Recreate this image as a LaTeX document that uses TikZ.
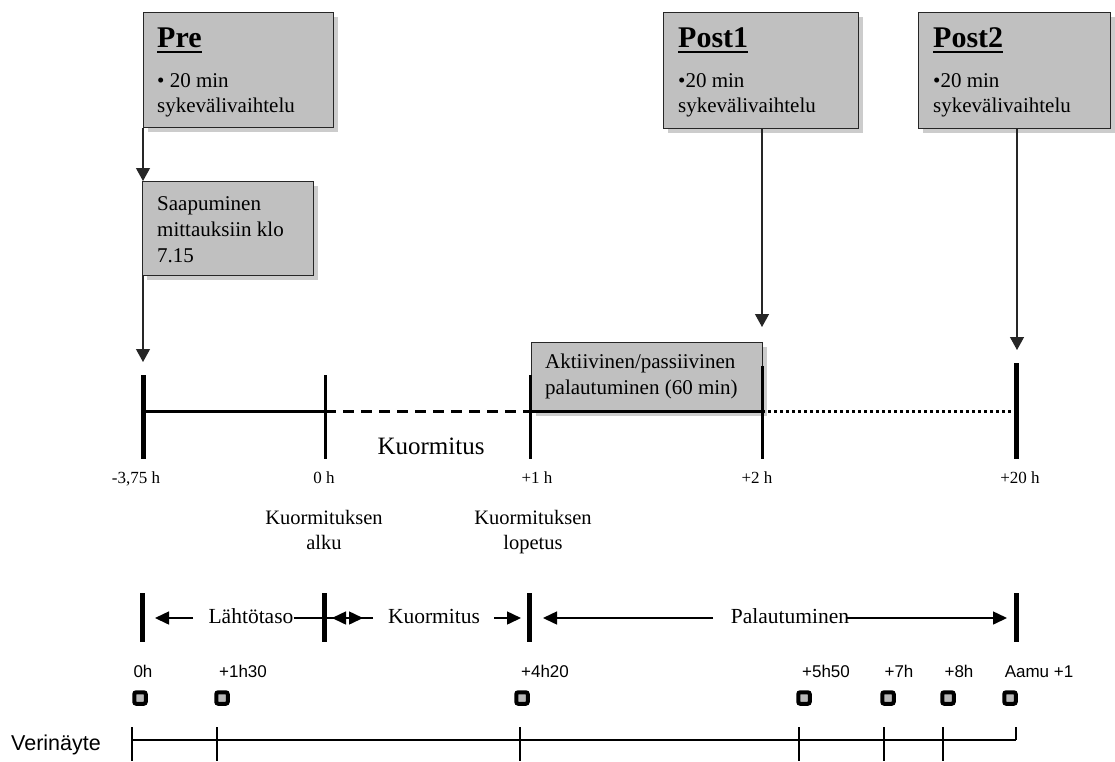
\documentclass[tikz,border=0pt]{standalone}
\usepackage{fontspec}
\setmainfont{Liberation Serif}
\newfontfamily\arialf{Liberation Sans}
\usetikzlibrary{arrows.meta,shadows}
\definecolor{boxgray}{HTML}{C0C0C0}
\begin{document}
\begin{tikzpicture}[x=1pt,y=-1pt,
  gbox/.style={draw=black!85,line width=1.3pt,fill=boxgray,inner sep=0pt,anchor=north west,
    drop shadow={shadow xshift=4pt,shadow yshift=-4pt,fill=black,opacity=0.2}},
  ttl/.style={anchor=base west,inner sep=0pt,font=\fontsize{30}{33}\selectfont\bfseries},
  btxt/.style={anchor=base west,inner sep=0pt,font=\fontsize{21}{24}\selectfont},
  ticklab/.style={anchor=base,inner sep=0pt,font=\fontsize{17}{20}\selectfont},
  mtxt/.style={anchor=base,inner sep=0pt,font=\fontsize{20.5}{23}\selectfont},
  ltxt/.style={anchor=base,inner sep=0pt,font=\fontsize{21.5}{24}\selectfont},
  stxt/.style={anchor=base,inner sep=0pt,font=\arialf\fontsize{17}{20}\selectfont},
  arr/.style={-{Triangle[width=14pt,length=13pt]},line width=1.2pt,draw=black!85},
  larr/.style={-{Triangle[width=13pt,length=14pt]},line width=1.5pt},
  sq/.style={draw=black,line width=4pt,fill=gray!55,rounded corners=2pt,minimum size=11.5pt,inner sep=0pt},
  thick5/.style={line width=5pt},
  thick3/.style={line width=3pt}]
\useasboundingbox (0,0) rectangle (1115,761);

% ---------- top boxes ----------
\node[gbox,minimum width=190pt,minimum height=115pt] (pre) at (143,12) {};
\node[ttl] (pret) at (157,47) {Pre};
\draw[line width=2.8pt] ([yshift=-5pt]pret.base west) -- ([yshift=-5pt]pret.base east);
\node[btxt] (pre1) at (157,87) {\textbullet\ 20 min};
\node[btxt] (pre2) at (157,112) {sykevälivaihtelu};

\node[gbox,minimum width=195pt,minimum height=116pt] (post1) at (663,12) {};
\node[ttl] (p1t) at (678,47) {Post1};
\draw[line width=2.8pt] ([yshift=-5pt]p1t.base west) -- ([yshift=-5pt]p1t.base east);
\node[btxt] (p1a) at (678,87) {\textbullet 20 min};
\node[btxt] (p1b) at (678,112) {sykevälivaihtelu};

\node[gbox,minimum width=192pt,minimum height=116pt] (post2) at (918,12) {};
\node[ttl] (p2t) at (933,47) {Post2};
\draw[line width=2.8pt] ([yshift=-5pt]p2t.base west) -- ([yshift=-5pt]p2t.base east);
\node[btxt] (p2a) at (933,87) {\textbullet 20 min};
\node[btxt] (p2b) at (933,112) {sykevälivaihtelu};

\node[gbox,minimum width=171pt,minimum height=94pt] (saap) at (142,181) {};
\node[btxt] (sa1) at (157,210) {Saapuminen};
\node[btxt] (sa2) at (157,236) {mittauksiin klo};
\node[btxt] (sa3) at (157,262) {7.15};

\node[gbox,minimum width=231pt,minimum height=69pt] (akt) at (531,342) {};
\node[btxt] (ak1) at (545,368) {Aktiivinen/passiivinen};
\node[btxt] (ak2) at (545,394) {palautuminen (60 min)};

% ---------- top arrows ----------
\coordinate (preEnd) at (143,362);
\coordinate (p1End) at (762,327);
\coordinate (p2End) at (1017,350);
\draw[arr] (pre.south west) -- (pre.south west |- saap.north);
\draw[arr] ([xshift=1pt]saap.south west) -- (preEnd);
\draw[arr] (post1.south -| p1End) -- (p1End);
\draw[arr] (post2.south -| p2End) -- (p2End);

% ---------- upper timeline ----------
\coordinate (tA) at (143,411);
\coordinate (tB) at (325,411);
\coordinate (tC) at (530,411);
\coordinate (tD) at (762,411);
\coordinate (tE) at (1016,411);
\draw[thick3] (tA) -- (tB);
\draw[thick3,dash pattern=on 11pt off 7pt] (tB) -- (tC);
\draw[thick3] (tC) -- (tD);
\draw[line width=3pt,dash pattern=on 3pt off 3pt] (tD) -- (tE);
\draw[thick5] (143,375) -- (143,459);
\draw[thick3] (325,375) -- (325,459);
\draw[thick3] (530,375) -- (530,459);
\draw[thick3] (762,366) -- (762,459);
\draw[thick5] (1016,363) -- (1016,459);

\node[ticklab] (l1) at (136,483) {-3,75 h};
\node[ticklab] (l2) at (324,483) {0 h};
\node[ticklab] (l3) at (537,483) {+1 h};
\node[ticklab] (l4) at (757,483) {+2 h};
\node[ticklab] (l5) at (1020,483) {+20 h};
\node[anchor=base,inner sep=0pt,font=\fontsize{25}{28}\selectfont] (kuorm) at (431,454) {Kuormitus};

\node[mtxt] (ka1) at (324,524) {Kuormituksen};
\node[mtxt] (ka2) at (324,549) {alku};
\node[mtxt] (kl1) at (533,524) {Kuormituksen};
\node[mtxt] (kl2) at (533,549) {lopetus};

% ---------- lower phase row ----------
\draw[thick5] (142,593) -- (142,642);
\draw[thick5] (324,593) -- (324,642);
\draw[thick5] (529,593) -- (529,642);
\draw[thick5] (1016,593) -- (1016,642);

\node[ltxt] (lah) at (251,623) {Lähtötaso};
\node[ltxt] (kuo) at (434,623) {Kuormitus};
\node[ltxt] (pal) at (790,623) {Palautuminen};
\coordinate (a1) at (155,618);
\coordinate (a2) at (363,618);
\coordinate (a3) at (332,618);
\coordinate (a4) at (521,618);
\coordinate (a5) at (543,618);
\coordinate (a6) at (1007,618);
\draw[larr] (193,618) -- (a1);
\draw[larr] (lah.east |- a1) -- (a2);
\draw[larr] (373,618) -- (a3);
\draw[larr] (494,618) -- (a4);
\draw[larr] (713,618) -- (a5);
\draw[larr] ([xshift=-2pt]pal.east |- a6) -- (a6);

% ---------- blood samples ----------
\node[stxt] (b1) at (143,677) {0h};
\node[stxt] (b2) at (243,677) {+1h30};
\node[stxt] (b3) at (545,677) {+4h20};
\node[stxt] (b4) at (826,677) {+5h50};
\node[stxt] (b5) at (899,677) {+7h};
\node[stxt] (b6) at (959,677) {+8h};
\node[stxt] (b7) at (1039,677) {Aamu +1};
\node[sq] (s1) at (140,698) {};
\node[sq] (s2) at (222,698) {};
\node[sq] (s3) at (522,698) {};
\node[sq] (s4) at (804,698) {};
\node[sq] (s5) at (888,698) {};
\node[sq] (s6) at (948,698) {};
\node[sq] (s7) at (1010,698) {};

\node[anchor=base west,inner sep=0pt,font=\arialf\fontsize{21.5}{24}\selectfont] (ver) at (11,750) {Verinäyte};
\draw[line width=1.4pt] (132,740) -- (1016,740);
\foreach \xx in {132,217,520,799,884,943} \draw[line width=1.4pt] (\xx,727) -- (\xx,761);
\draw[line width=1.4pt] (1016,727) -- (1016,740);
\end{tikzpicture}
\end{document}
